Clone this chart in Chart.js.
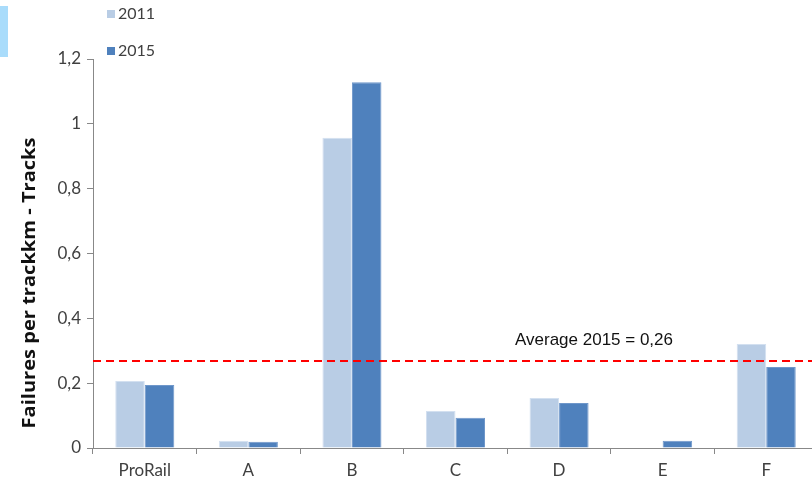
<!DOCTYPE html>
<html>
<head>
<meta charset="utf-8">
<script src="https://cdn.jsdelivr.net/npm/chart.js@4"></script>
<style>
  html, body { margin: 0; padding: 0; background: #fff; overflow: hidden; }
  #wrap { position: relative; width: 820px; height: 480px; }
</style>
</head>
<body>
<div id="wrap"><canvas id="chart" width="820" height="480"></canvas></div>
<script>
// data
const categories = ['ProRail', 'A', 'B', 'C', 'D', 'E', 'F'];
const values2011 = [0.207, 0.022, 0.957, 0.114, 0.154, 0, 0.321];
const values2015 = [0.194, 0.019, 1.128, 0.093, 0.139, 0.022, 0.250];
const seriesLabels = ['2011', '2015'];
const average2015 = 0.268;
const averageLabel = 'Average 2015 = 0,26';
const yTitle = 'Failures per trackkm - Tracks';

const colors = ['#B9CDE5', '#4F81BD'];

// red dashed average line with its label
const averagePlugin = {
    id: 'averageLine',
    afterDatasetsDraw(chart) {
        const { ctx, chartArea, scales } = chart;
        const y = scales.y.getPixelForValue(average2015);
        ctx.save();
        ctx.strokeStyle = '#FF0000';
        ctx.lineWidth = 2;
        ctx.setLineDash([8, 5]);
        ctx.beginPath();
        ctx.moveTo(chartArea.left, y);
        ctx.lineTo(chartArea.right, y);
        ctx.stroke();
        ctx.setLineDash([]);
        ctx.fillStyle = '#111';
        ctx.font = '17px "Liberation Sans Narrow", "Liberation Sans", sans-serif';
        ctx.textAlign = 'center';
        ctx.textBaseline = 'alphabetic';
        ctx.fillText(averageLabel, 594, y - 16);
        ctx.restore();
    }
};

// legend, axis title and the small blue mark at the left edge
const decorPlugin = {
    id: 'decor',
    afterDraw(chart) {
        const { ctx } = chart;
        ctx.save();
        ctx.fillStyle = '#A9DCFB';
        ctx.fillRect(0, 6, 8, 51);

        ctx.font = '16px Lato, sans-serif';
        ctx.textBaseline = 'middle';
        ctx.textAlign = 'left';
        chart.data.datasets.forEach((ds, i) => {
            const y = 14 + i * 37;
            ctx.fillStyle = ds.backgroundColor;
            ctx.fillRect(107, y - 4, 8, 8);
            ctx.fillStyle = '#404040';
            ctx.fillText(ds.label, 118, y);
        });

        // title is stretched along its length in the reference
        ctx.font = 'bold 17px "Open Sans", sans-serif';
        const w = ctx.measureText(yTitle).width;
        ctx.translate(30, 283);
        ctx.rotate(-Math.PI / 2);
        ctx.scale(291 / w, 1);
        ctx.textAlign = 'center';
        ctx.fillStyle = '#111';
        ctx.fillText(yTitle, 0, 0);
        ctx.restore();
    }
};

new Chart(document.getElementById('chart'), {
    type: 'bar',
    data: {
        labels: categories,
        datasets: [
            { label: seriesLabels[0], data: values2011, backgroundColor: colors[0], borderColor: '#D3E0F0', borderWidth: 1 },
            { label: seriesLabels[1], data: values2015, backgroundColor: colors[1], borderColor: '#6F97CA', borderWidth: 1 }
        ]
    },
    options: {
        responsive: false,
        animation: false,
        devicePixelRatio: 1,
        layout: { padding: { top: 59, left: 0, right: 2, bottom: 0 } },
        datasets: { bar: { barPercentage: 1, categoryPercentage: 0.57 } },
        plugins: {
            legend: { display: false },
            tooltip: { enabled: false }
        },
        scales: {
            x: {
                grid: { offset: true, drawOnChartArea: false, tickLength: 6, color: '#888' },
                border: { color: '#888', width: 1 },
                ticks: { color: '#404040', font: { family: 'Lato', size: 17 }, padding: 6, maxRotation: 0, autoSkip: false },
                afterFit(scale) { scale.height = 32; }
            },
            y: {
                min: 0,
                max: 1.2,
                grid: { drawOnChartArea: false, tickLength: 6, color: '#888' },
                border: { color: '#888', width: 1 },
                ticks: {
                    stepSize: 0.2,
                    color: '#404040',
                    font: { family: 'Lato', size: 17 },
                    padding: 6,
                    callback: v => String(Math.round(v * 10) / 10).replace('.', ',')
                },
                afterFit(scale) { scale.width = 93; }
            }
        }
    },
    plugins: [averagePlugin, decorPlugin]
});
</script>
</body>
</html>
